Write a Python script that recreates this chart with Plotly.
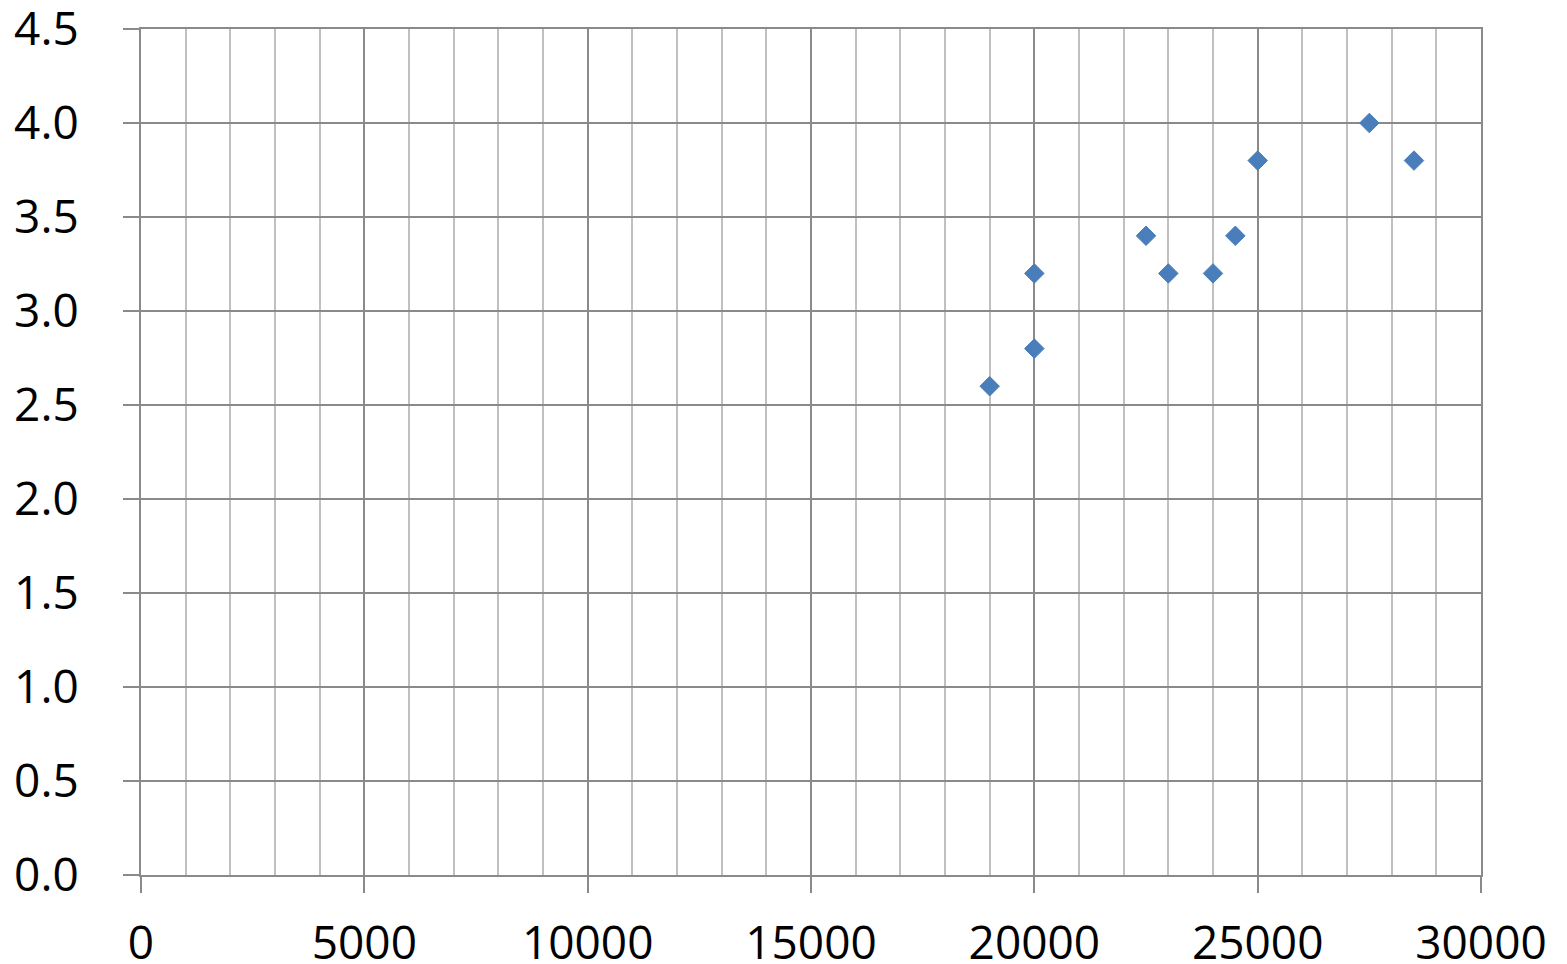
import plotly.graph_objects as go

x_vals = [19000, 20000, 20000, 22500, 23000, 24000, 24500, 25000, 27500, 28500]
y_vals = [2.6, 3.2, 2.8, 3.4, 3.2, 3.2, 3.4, 3.8, 4.0, 3.8]

x_ticks = [0, 5000, 10000, 15000, 20000, 25000, 30000]
y_ticks = [0.0, 0.5, 1.0, 1.5, 2.0, 2.5, 3.0, 3.5, 4.0, 4.5]
y_ticklabels = [f"{v:.1f}" for v in y_ticks]

major = "#8a8a8a"
minor = "#c0c0c0"
font = dict(family="Open Sans", size=46, color="#000000")

fig = go.Figure()
fig.add_trace(go.Scatter(
    x=x_vals, y=y_vals, mode="markers",
    marker=dict(symbol="diamond", size=15, color="#4a7ebb",
                line=dict(color="#4a7ebb", width=1)),
    showlegend=False,
))

fig.update_layout(
    width=1567, height=964,
    margin=dict(l=141, r=86, t=29, b=89),
    paper_bgcolor="white", plot_bgcolor="white",
    font=font,
)
fig.update_xaxes(
    range=[0, 30000], tickvals=x_ticks, ticktext=[str(v) for v in x_ticks],
    showgrid=True, gridcolor=major, gridwidth=2,
    minor=dict(dtick=1000, tick0=0, showgrid=True, gridcolor=minor, gridwidth=2, ticks=""),
    ticks="outside", ticklen=16, tickwidth=2, tickcolor=major,
    showline=True, linecolor=major, linewidth=2, mirror=True,
    zeroline=False, tickfont=font, ticklabelstandoff=11,
    automargin=False, ticklabeloverflow="allow",
)
fig.update_yaxes(
    range=[0, 4.5], tickvals=y_ticks, ticktext=y_ticklabels,
    showgrid=True, gridcolor=major, gridwidth=2,
    ticks="outside", ticklen=16, tickwidth=2, tickcolor=major,
    showline=True, linecolor=major, linewidth=2, mirror=True,
    zeroline=False, tickfont=font, ticklabelstandoff=35,
    automargin=False, ticklabeloverflow="allow",
)

fig.write_html("out.html")
